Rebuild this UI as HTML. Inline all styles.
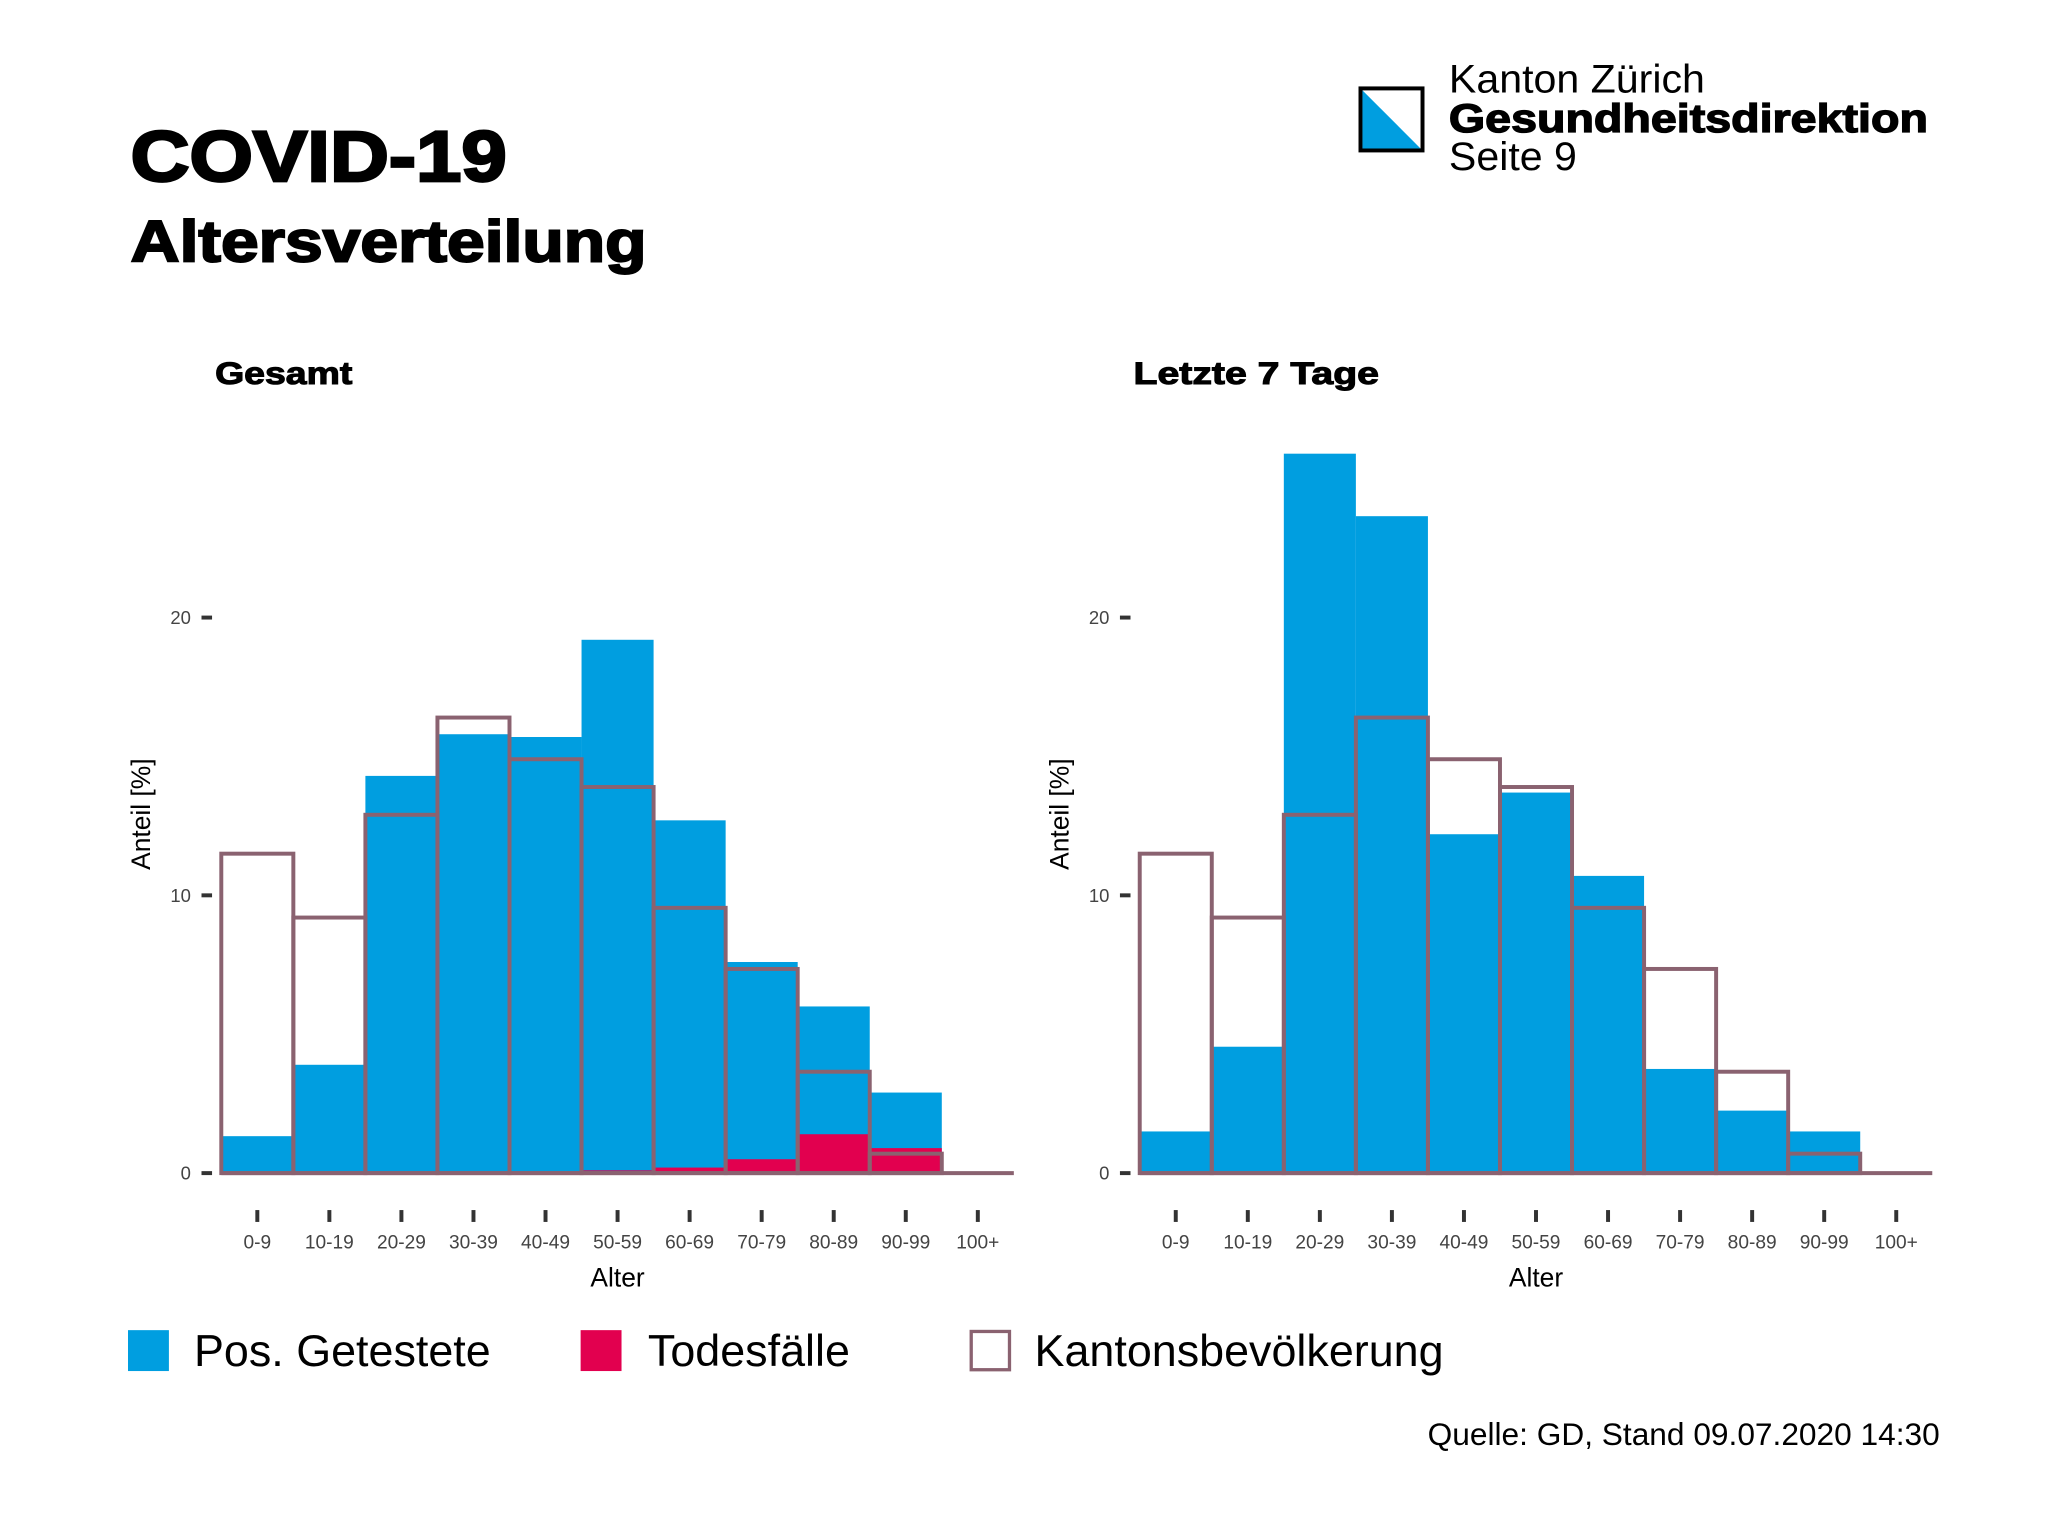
<!DOCTYPE html>
<html><head><meta charset="utf-8"><style>
html,body{margin:0;padding:0;background:#fff;}
svg{display:block;font-family:"Liberation Sans",sans-serif;}
</style></head><body>
<svg id="root" width="2048" height="1536" viewBox="0 0 1552 1164">
<text x="99" y="137" font-size="54" font-weight="bold" stroke="#000" stroke-width="2" textLength="285" lengthAdjust="spacingAndGlyphs">COVID-19</text>
<text x="99" y="198" font-size="44" font-weight="bold" stroke="#000" stroke-width="1.5" textLength="391" lengthAdjust="spacingAndGlyphs">Altersverteilung</text>
<g>
<rect x="1031" y="67" width="47" height="47" fill="#fff" stroke="#000" stroke-width="3"/>
<polygon points="1032.5,68.5 1076.5,112.5 1032.5,112.5" fill="#009ee0"/>
</g>
<text x="1098" y="70" font-size="30" textLength="194" lengthAdjust="spacingAndGlyphs">Kanton Zürich</text>
<text x="1098" y="100" font-size="30" font-weight="bold" stroke="#000" stroke-width="1" textLength="363" lengthAdjust="spacingAndGlyphs">Gesundheitsdirektion</text>
<text x="1098" y="129" font-size="30" textLength="97" lengthAdjust="spacingAndGlyphs">Seite 9</text>
<text x="163" y="291" font-size="24" font-weight="bold" stroke="#000" stroke-width="0.8" textLength="104" lengthAdjust="spacingAndGlyphs">Gesamt</text>
<text x="859" y="291" font-size="24" font-weight="bold" stroke="#000" stroke-width="0.8" textLength="186" lengthAdjust="spacingAndGlyphs">Letzte 7 Tage</text>
<g id="charts"></g>
<g>
<rect x="97" y="1008" width="31" height="31" fill="#009ee0"/>
<text x="147" y="1035" font-size="34">Pos. Getestete</text>
<rect x="440" y="1008" width="31" height="31" fill="#e2004f"/>
<text x="491" y="1035" font-size="34">Todesfälle</text>
<rect x="736" y="1009" width="29" height="29" fill="#fff" stroke="#8a6270" stroke-width="2.5"/>
<text x="784" y="1035" font-size="34">Kantonsbevölkerung</text>
</g>
<text x="1470" y="1095" font-size="24" text-anchor="end">Quelle: GD, Stand 09.07.2020 14:30</text>
</svg>
<script>
const categories = ["0-9","10-19","20-29","30-39","40-49","50-59","60-69","70-79","80-89","90-99","100+"];
const totalPositive = [1.33,3.9,14.3,15.8,15.7,19.2,12.7,7.6,6.0,2.9,0];
const totalDeaths = [0,0,0,0,0,0.1,0.2,0.5,1.4,0.9,0];
const population = [11.5,9.2,12.9,16.4,14.9,13.9,9.55,7.35,3.65,0.7,0];
const recentPositive = [1.5,4.55,25.9,23.65,12.2,13.7,10.7,3.75,2.25,1.5,0];
const recentDeaths = [0,0,0,0,0,0,0,0,0,0,0];
const yTicks = [0,10,20];

const NS = "http://www.w3.org/2000/svg";
const host = document.getElementById('charts');
function mk(tag, attrs, parent){ const e=document.createElementNS(NS,tag); for(const k in attrs) e.setAttribute(k,attrs[k]); parent.appendChild(e); return e; }

function drawPanel(x0, pos, deaths, pop, key){
  const g = mk('g',{},host);
  
  
  const bw = 54.6, y0 = 889, pxPer = 21.05;
  const xs = i => x0 + i*bw;
  const ys = v => y0 - v*pxPer;
  yTicks.forEach(t=>{
    const tk = mk('line',{x1:x0-15,x2:x0-7,y1:ys(t),y2:ys(t),stroke:'#333','stroke-width':3},g);
    
    
    const tl = mk('text',{x:x0-23,y:ys(t)+5,'font-size':14,fill:'#444','text-anchor':'end'},g);
    tl.textContent = t;
    
    
  });
  const yt = mk('text',{x:0,y:0,'font-size':20,'text-anchor':'middle',transform:`translate(${x0-54},617) rotate(-90)`},g);
  yt.textContent = 'Anteil [%]';
  
  
  categories.forEach((c,i)=>{
    if(pos[i]>0){
      const b = mk('rect',{x:xs(i),y:ys(pos[i]),width:bw,height:pos[i]*pxPer,fill:'#009ee0'},g);
      
      
    }
    if(deaths[i]>0){
      const d = mk('rect',{x:xs(i),y:ys(deaths[i]),width:bw,height:deaths[i]*pxPer,fill:'#e2004f'},g);
      
      
    }
  });
  categories.forEach((c,i)=>{
    const o = mk('rect',{x:xs(i),y:ys(pop[i]),width:bw,height:pop[i]*pxPer,fill:'none',stroke:'#8a6270','stroke-width':3},g);
    
    
    const tk = mk('line',{x1:xs(i)+bw/2,x2:xs(i)+bw/2,y1:917,y2:926,stroke:'#333','stroke-width':3},g);
    
    
    const tl = mk('text',{x:xs(i)+bw/2,y:946,'font-size':14.5,fill:'#444','text-anchor':'middle'},g);
    tl.textContent = c;
    
    
  });
  const bl = mk('line',{x1:x0,x2:xs(categories.length),y1:y0,y2:y0,stroke:'#8a6270','stroke-width':3},g);
  
  
  const xt = mk('text',{x:x0+bw*5.5,y:975,'font-size':20,'text-anchor':'middle'},g);
  xt.textContent = 'Alter';
  
  
}
drawPanel(167.7, totalPositive, totalDeaths, population, 'gesamt');
drawPanel(863.7, recentPositive, recentDeaths, population, 'letzte-7-tage');
</script>
</body></html>
